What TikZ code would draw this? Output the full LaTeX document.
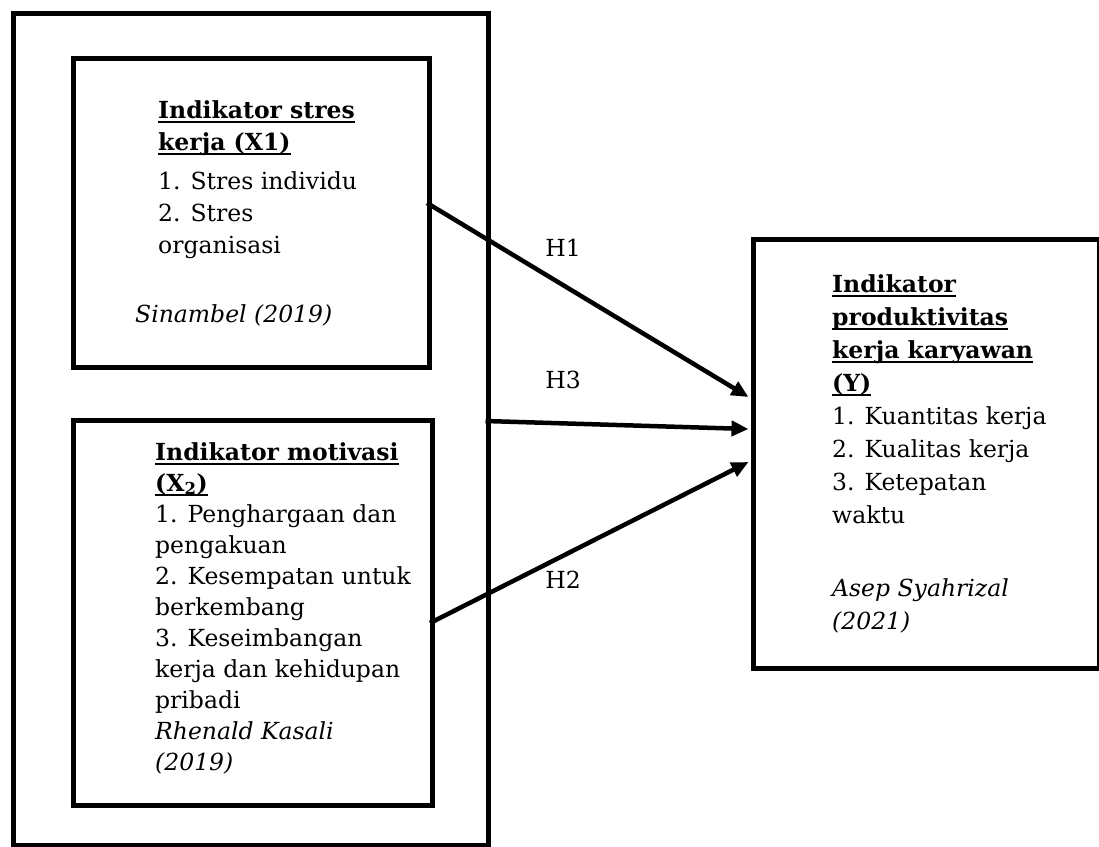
\documentclass[tikz,border=0pt]{standalone}
\usepackage{fontspec}
\setmainfont{DejaVu Serif}
\usetikzlibrary{arrows.meta}
\newcommand\myul[1]{\setbox0\hbox{#1}\rlap{\rule[-4.5pt]{\wd0}{1.6pt}}\box0}
\tikzset{
  box/.style={draw, line width=5pt, rectangle, inner sep=0pt, anchor=north west},
  txt/.style={anchor=base west, inner sep=0pt, font=\fontsize{23.5}{30}\selectfont},
  hlab/.style={anchor=center, inner sep=0pt, font=\fontsize{23.5}{30}\selectfont},
  arr/.style={line width=4.5pt, -{Triangle[length=17pt,width=15pt]}}
}
\begin{document}
\begin{tikzpicture}[x=1pt,y=-1pt]
\useasboundingbox (0,0) rectangle (1099,846);
% boxes
\node[box, minimum width=475pt, minimum height=832pt] (outer) at (10.5,10.5) {};
\node[box, minimum width=356.5pt, minimum height=309pt] (x1box) at (70.5,55.5) {};
\node[box, minimum width=359pt, minimum height=384.5pt] (x2box) at (71,418) {};
\node[box, minimum width=346pt, minimum height=429pt] (ybox) at (751,237) {};
% X1 text
\node[txt] (x1a) at (158,118) {\myul{\bfseries Indikator stres}};
\node[txt] (x1b) at (158,150) {\myul{\bfseries kerja (X1)}};
\node[txt] (x1c) at (158,189) {1. Stres individu};
\node[txt] (x1d) at (158,221) {2. Stres};
\node[txt] (x1e) at (158,253) {organisasi};
\node[txt] (x1f) at (135,322) {\itshape Sinambel (2019)};
% X2 text
\node[txt] (x2a) at (155,460) {\myul{\bfseries Indikator motivasi}};
\node[txt] (x2b) at (155,491) {\myul{\bfseries (X\textsubscript{2})}};
\node[txt] (x2c) at (155,522) {1. Penghargaan dan};
\node[txt] (x2d) at (155,553) {pengakuan};
\node[txt] (x2e) at (155,584) {2. Kesempatan untuk};
\node[txt] (x2f) at (155,615) {berkembang};
\node[txt] (x2g) at (155,646) {3. Keseimbangan};
\node[txt] (x2h) at (155,677) {kerja dan kehidupan};
\node[txt] (x2i) at (155,708) {pribadi};
\node[txt] (x2j) at (155,739) {\itshape Rhenald Kasali};
\node[txt] (x2k) at (155,770) {\itshape (2019)};
% Y text
\node[txt] (ya) at (832,292) {\myul{\bfseries Indikator}};
\node[txt] (yb) at (832,325) {\myul{\bfseries produktivitas}};
\node[txt] (yc) at (832,358) {\myul{\bfseries kerja karyawan}};
\node[txt] (yd) at (832,391) {\myul{\bfseries (Y)}};
\node[txt] (ye) at (832,424) {1. Kuantitas kerja};
\node[txt] (yf) at (832,457) {2. Kualitas kerja};
\node[txt] (yg) at (832,490) {3. Ketepatan};
\node[txt] (yh) at (832,523) {waktu};
\node[txt] (yi) at (832,596) {\itshape Asep Syahrizal};
\node[txt] (yj) at (832,629) {\itshape (2021)};
% arrow ends
\coordinate (h1s) at (427,203);
\coordinate (h1e) at (748.5,397);
\coordinate (h3s) at (485.5,421);
\coordinate (h3e) at (748.5,429);
\coordinate (h2s) at (430,623);
\coordinate (h2e) at (748.5,462);
\draw[arr] (h1s) -- (h1e);
\draw[arr] (h3s) -- (h3e);
\draw[arr] (h2s) -- (h2e);
% labels
\node[hlab] (lh1) at (563,248) {H1};
\node[hlab] (lh3) at (563,380) {H3};
\node[hlab] (lh2) at (563,580) {H2};
\end{tikzpicture}
\end{document}
